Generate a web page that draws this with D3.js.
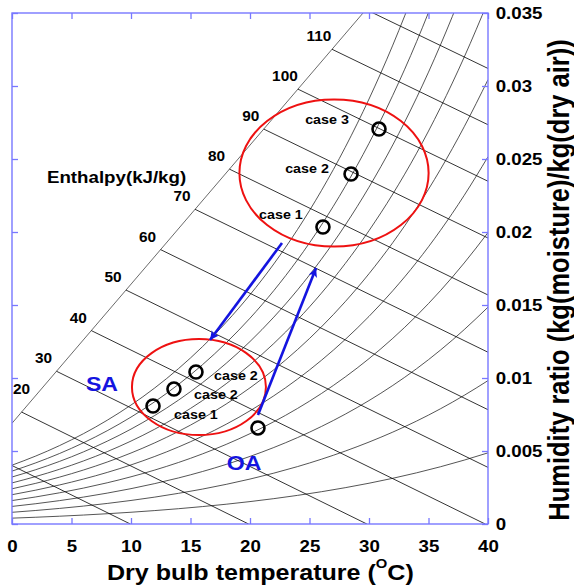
<!DOCTYPE html>
<html lang="en">
<head>
<meta charset="UTF-8">
<title>Psychrometric chart - SA / OA cases</title>
<script src="https://d3js.org/d3.v7.min.js"></script>
<style>
    body { margin: 0; background: #fff; }
    svg { display: block; font-family: "Liberation Sans", Arial, Helvetica, sans-serif; }
</style>
</head>
<body>
<svg width="574" height="587"></svg>
<script>
// saturation pressure of water (kPa) vs temperature (C)
const satT = [0, 2, 4, 6, 8, 10, 12, 14, 16, 18, 20, 22, 24, 26, 28, 30, 32, 34, 36, 38, 40];
const satP = [0.6113, 0.7060, 0.8135, 0.9353, 1.0730, 1.2282, 1.4028, 1.5989, 1.8188, 2.0647,
              2.3392, 2.6448, 2.9852, 3.3638, 3.7830, 4.2469, 4.7586, 5.3239, 5.9489, 6.6356, 7.3851];
const pressure = 95; // kPa
const rhLevels = [0.1, 0.2, 0.3, 0.4, 0.5, 0.6, 0.7, 0.8, 0.9, 1.0];
const enthalpyLevels = [10, 20, 30, 40, 50, 60, 70, 80, 90, 100, 110, 120];
const enthalpyLabelLevels = [20, 30, 40, 50, 60, 70, 80, 90, 100, 110];

// enthalpy scale line (upper-left edge of the chart)
const scaleLineT = [0, 29.5];
const scaleLineW = [0.0069, 0.035];

// measured states
const upperT = [26.13, 28.49, 30.84];
const upperW = [0.02034, 0.02397, 0.02705];
const lowerT = [11.85, 13.61, 15.46];
const lowerW = [0.00808, 0.00925, 0.01041];
const oaT = [20.67];
const oaW = [0.00658];

// text notes, placed in data units (T, W)
const notes = [
    { text: "case 1", t: 22.6,  w: 0.02123, size: 13, fill: "#000" },
    { text: "case 2", t: 24.79, w: 0.02438, size: 13, fill: "#000" },
    { text: "case 3", t: 26.47, w: 0.02774, size: 13, fill: "#000" },
    { text: "case 2", t: 18.82, w: 0.01021, size: 13, fill: "#000" },
    { text: "case 2", t: 17.14, w: 0.0089,  size: 13, fill: "#000" },
    { text: "case 1", t: 15.46, w: 0.00753, size: 13, fill: "#000" },
    { text: "SA",     t: 7.56,  w: 0.00966, size: 21, fill: "#1414e0" },
    { text: "OA",     t: 19.5,  w: 0.00425, size: 21, fill: "#1414e0" }
];

// groups circled in red: centre and half-axes
const ellipses = [
    { t: 27.06, w: 0.02404, rt: 7.95, rw: 0.00504 },
    { t: 15.71, w: 0.00938, rt: 5.63, rw: 0.00329 }
];

// blue arrows
const arrows = [
    { t0: 22.69, w0: 0.01925, t1: 16.64, w1: 0.0126 },
    { t0: 20.67, w0: 0.00747, t1: 25.55, w1: 0.01753 }
];

const xTicks = [0, 5, 10, 15, 20, 25, 30, 35, 40];
const yTicks = [0, 0.005, 0.01, 0.015, 0.02, 0.025, 0.03, 0.035];

const svg = d3.select("svg");
const axisColor = "#7878ff";

const x = d3.scaleLinear().domain([0, 40]).range([12, 488]);
const y = d3.scaleLinear().domain([0, 0.035]).range([524, 13]);

const humidity = (rh, ps) => 0.622 * rh * ps / (pressure - rh * ps);
const enthalpyW = (h, t) => (h - 1.006 * t) / (2501 + 1.86 * t);
const scaleW = t => scaleLineW[0] + (scaleLineW[1] - scaleLineW[0]) * (t - scaleLineT[0]) / (scaleLineT[1] - scaleLineT[0]);

// where an enthalpy line meets the scale line
function enthalpyStart(h) {
    let lo = -15, hi = 45;
    for (let i = 0; i < 60; i++) {
        const mid = (lo + hi) / 2;
        if (enthalpyW(h, mid) - scaleW(mid) > 0) lo = mid; else hi = mid;
    }
    return lo;
}

function note(sel, str, px, py, size, fill, sx = 1.1) {
    return sel.append("text")
        .attr("transform", `translate(${px},${py}) scale(${sx},1)`)
        .attr("text-anchor", "middle")
        .attr("dy", "0.36em")
        .attr("font-size", size)
        .attr("font-weight", "bold")
        .attr("fill", fill)
        .text(str);
}

const defs = svg.append("defs");
defs.append("clipPath").attr("id", "plot-clip")
    .append("rect")
    .attr("x", x(0)).attr("y", y(0.035))
    .attr("width", x(40) - x(0)).attr("height", y(0) - y(0.035));

defs.append("marker")
    .attr("id", "arrow")
    .attr("viewBox", "0 0 10 10")
    .attr("refX", 10).attr("refY", 5)
    .attr("markerUnits", "userSpaceOnUse")
    .attr("markerWidth", 12).attr("markerHeight", 9)
    .attr("orient", "auto")
    .append("path")
    .attr("d", "M0,0 L10,5 L0,10 L2.5,5 z")
    .attr("fill", "#1414e0");

const grid = svg.append("g").attr("clip-path", "url(#plot-clip)");

// relative humidity curves
const rhLine = d3.line()
    .x(d => x(d[0]))
    .y(d => y(d[1]))
    .curve(d3.curveMonotoneX);

grid.selectAll(".rh")
    .data(rhLevels)
    .join("path")
    .attr("class", "rh")
    .attr("fill", "none")
    .attr("stroke", "#2a2a2a")
    .attr("stroke-width", 0.8)
    .attr("d", rh => rhLine(satT.map((t, i) => [t, humidity(rh, satP[i])])));

// enthalpy scale line
grid.append("path")
    .attr("fill", "none")
    .attr("stroke", "#444")
    .attr("stroke-width", 0.8)
    .attr("d", d3.line()([[x(scaleLineT[0]), y(scaleLineW[0])], [x(scaleLineT[1]), y(scaleLineW[1])]]));

// enthalpy lines
grid.selectAll(".enth")
    .data(enthalpyLevels)
    .join("line")
    .attr("class", "enth")
    .attr("stroke", "#000")
    .attr("stroke-width", 0.8)
    .attr("x1", h => x(enthalpyStart(h)))
    .attr("y1", h => y(enthalpyW(h, enthalpyStart(h))))
    .attr("x2", h => x(h / 1.006))
    .attr("y2", y(0));

// enthalpy labels
const labels = svg.append("g");
enthalpyLabelLevels.forEach(h => {
    const t0 = enthalpyStart(h);
    let px = x(t0) - 13, py = y(enthalpyW(h, t0)) - 13;
    const half = String(h).length * 0.556 * 14 * 1.1 / 2;
    if (px - half < x(0) + 1) {
        const shift = x(0) + 1 + half - px;
        px += shift;
        py -= shift * 0.8;
    }
    note(labels, String(h), px, py, 14, "#000");
});

note(svg, "Enthalpy(kJ/kg)", x(2.94), y(0.02377), 17, "#000").attr("text-anchor", "start");

// red ellipses
svg.selectAll(".group")
    .data(ellipses)
    .join("ellipse")
    .attr("class", "group")
    .attr("cx", d => x(d.t))
    .attr("cy", d => y(d.w))
    .attr("rx", d => x(d.rt) - x(0))
    .attr("ry", d => y(0) - y(d.rw))
    .attr("fill", "none")
    .attr("stroke", "#ee1111")
    .attr("stroke-width", 2);

// arrows
svg.selectAll(".arrow")
    .data(arrows)
    .join("line")
    .attr("class", "arrow")
    .attr("x1", d => x(d.t0)).attr("y1", d => y(d.w0))
    .attr("x2", d => x(d.t1)).attr("y2", d => y(d.w1))
    .attr("stroke", "#1414e0")
    .attr("stroke-width", 2.6)
    .attr("marker-end", "url(#arrow)");

// state markers
const states = [
    ...upperT.map((t, i) => [t, upperW[i]]),
    ...lowerT.map((t, i) => [t, lowerW[i]]),
    ...oaT.map((t, i) => [t, oaW[i]])
];
svg.selectAll(".state")
    .data(states)
    .join("circle")
    .attr("class", "state")
    .attr("cx", d => x(d[0]))
    .attr("cy", d => y(d[1]))
    .attr("r", 6.5)
    .attr("fill", "none")
    .attr("stroke", "#000")
    .attr("stroke-width", 2.6);

notes.forEach(n => note(svg, n.text, x(n.t), y(n.w), n.size, n.fill));

// axes: inward ticks on all four sides
function styleAxis(g) {
    g.select(".domain").remove();
    g.selectAll(".tick line").attr("stroke", axisColor).attr("stroke-width", 1.3);
    g.selectAll(".tick text")
        .attr("font-size", 17)
        .attr("font-weight", "bold")
        .attr("fill", "#000")
        .attr("font-family", null);
}

svg.append("g")
    .attr("transform", `translate(0,${y(0)})`)
    .call(d3.axisBottom(x).tickValues(xTicks).tickSizeInner(-6).tickSizeOuter(0).tickPadding(16).tickFormat(d3.format("d")))
    .call(styleAxis)
    .call(g => g.selectAll(".tick text").attr("transform", "scale(1.1,1)"));

svg.append("g")
    .attr("transform", `translate(0,${y(0.035)})`)
    .call(d3.axisTop(x).tickValues(xTicks).tickSizeInner(-6).tickSizeOuter(0).tickFormat(""))
    .call(styleAxis);

svg.append("g")
    .attr("transform", `translate(${x(0)},0)`)
    .call(d3.axisLeft(y).tickValues(yTicks).tickSizeInner(-6).tickSizeOuter(0).tickFormat(""))
    .call(styleAxis);

svg.append("g")
    .attr("transform", `translate(${x(40)},0)`)
    .call(d3.axisRight(y).tickValues(yTicks).tickSizeInner(-6).tickSizeOuter(0).tickPadding(7).tickFormat(d3.format("~g")))
    .call(styleAxis)
    .call(g => g.selectAll(".tick text").attr("transform", "scale(1.1,1)"));

svg.append("rect")
    .attr("x", x(0)).attr("y", y(0.035))
    .attr("width", x(40) - x(0)).attr("height", y(0) - y(0.035))
    .attr("fill", "none")
    .attr("stroke", axisColor)
    .attr("stroke-width", 1.4);

// axis titles
const xTitle = svg.append("text")
    .attr("transform", "translate(107,580) scale(1.14,1)")
    .attr("font-size", 22)
    .attr("font-weight", "bold")
    .attr("fill", "#000");
xTitle.append("tspan").text("Dry bulb temperature (");
xTitle.append("tspan").attr("font-size", 13).attr("dy", -12).text("O");
xTitle.append("tspan").attr("dy", 12).text("C)");

svg.append("text")
    .attr("transform", "translate(569,280) rotate(-90) scale(1,1.14)")
    .attr("text-anchor", "middle")
    .attr("font-size", 25.5)
    .attr("font-weight", "bold")
    .attr("fill", "#000")
    .text("Humidity ratio (kg(moisture)/kg(dry air))");
</script>
</body>
</html>
